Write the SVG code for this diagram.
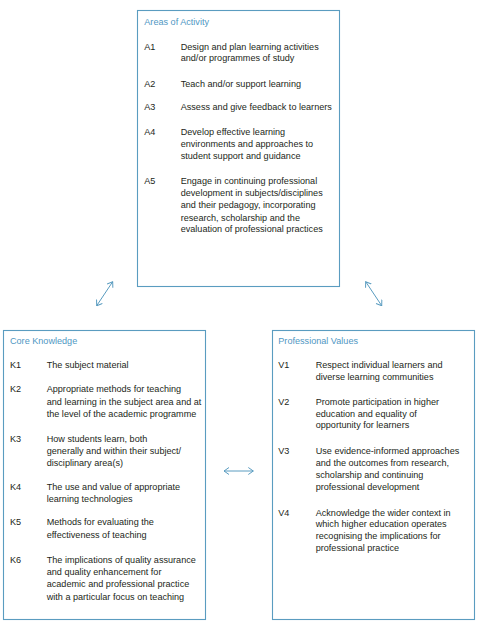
<svg xmlns="http://www.w3.org/2000/svg" width="479" height="629" viewBox="0 0 479 629">
<defs>
<style>
.box{fill:#fff;stroke:#5a9cc0;stroke-width:1.1}
text{font-family:"Liberation Sans",Arial,sans-serif;font-size:9.1px;fill:#231f20}
.title{fill:#4f97c3}
.conn{stroke:#5a9cc0;stroke-width:1;fill:none;marker-start:url(#ah);marker-end:url(#ah)}
</style>
<marker id="ah" viewBox="0 0 6 8" refX="5.5" refY="4" markerWidth="6" markerHeight="8" markerUnits="userSpaceOnUse" orient="auto-start-reverse">
<path d="M0.5,0.5 L5.5,4 L0.5,7.5" fill="none" stroke="#5a9cc0" stroke-width="1"/>
</marker>
</defs>
<rect width="479" height="629" fill="#fff"/>
<g id="areas">
<rect class="box" x="137.5" y="10.5" width="202" height="276"/>
<text class="title" x="144.3" y="25">Areas of Activity</text>
<text x="144.3" y="50">A1</text>
<text x="180.7" y="50">Design and plan learning activities</text>
<text x="180.7" y="61.3">and/or programmes of study</text>
<text x="144.3" y="86.6">A2</text>
<text x="180.7" y="86.6">Teach and/or support learning</text>
<text x="144.3" y="110">A3</text>
<text x="180.7" y="110">Assess and give feedback to learners</text>
<text x="144.3" y="134.5">A4</text>
<text x="180.7" y="134.5">Develop effective learning</text>
<text x="180.7" y="147.3">environments and approaches to</text>
<text x="180.7" y="159">student support and guidance</text>
<text x="144.3" y="183.5">A5</text>
<text x="180.7" y="183.5">Engage in continuing professional</text>
<text x="180.7" y="196">development in subjects/disciplines</text>
<text x="180.7" y="208.4">and their pedagogy, incorporating</text>
<text x="180.7" y="220.7">research, scholarship and the</text>
<text x="180.7" y="232.4">evaluation of professional practices</text>
</g>
<g id="knowledge">
<rect class="box" x="3.5" y="330.5" width="202" height="289"/>
<text class="title" x="10" y="344">Core Knowledge</text>
<text x="10" y="368.3">K1</text>
<text x="46.7" y="368.3">The subject material</text>
<text x="10" y="391.6">K2</text>
<text x="46.7" y="391.6">Appropriate methods for teaching</text>
<text x="46.7" y="404.6">and learning in the subject area and at</text>
<text x="46.7" y="417.3">the level of the academic programme</text>
<text x="10" y="441.6">K3</text>
<text x="46.7" y="441.6">How students learn, both</text>
<text x="46.7" y="454">generally and within their subject/</text>
<text x="46.7" y="466">disciplinary area(s)</text>
<text x="10" y="490">K4</text>
<text x="46.7" y="490">The use and value of appropriate</text>
<text x="46.7" y="501.6">learning technologies</text>
<text x="10" y="525">K5</text>
<text x="46.7" y="525">Methods for evaluating the</text>
<text x="46.7" y="538.3">effectiveness of teaching</text>
<text x="10" y="562.6">K6</text>
<text x="46.7" y="562.6">The implications of quality assurance</text>
<text x="46.7" y="575">and quality enhancement for</text>
<text x="46.7" y="587.3">academic and professional practice</text>
<text x="46.7" y="600">with a particular focus on teaching</text>
</g>
<g id="values">
<rect class="box" x="272.5" y="330.5" width="202" height="289"/>
<text class="title" x="278.3" y="344">Professional Values</text>
<text x="278.3" y="368.3">V1</text>
<text x="315.7" y="368.3">Respect individual learners and</text>
<text x="315.7" y="380">diverse learning communities</text>
<text x="278.3" y="405">V2</text>
<text x="315.7" y="405">Promote participation in higher</text>
<text x="315.7" y="416.6">education and equality of</text>
<text x="315.7" y="428.3">opportunity for learners</text>
<text x="278.3" y="454.3">V3</text>
<text x="315.7" y="454.3">Use evidence-informed approaches</text>
<text x="315.7" y="466">and the outcomes from research,</text>
<text x="315.7" y="478.3">scholarship and continuing</text>
<text x="315.7" y="490">professional development</text>
<text x="278.3" y="515.6">V4</text>
<text x="315.7" y="515.6">Acknowledge the wider context in</text>
<text x="315.7" y="527.3">which higher education operates</text>
<text x="315.7" y="539">recognising the implications for</text>
<text x="315.7" y="551">professional practice</text>
</g>
<g id="connectors">
<line class="conn" x1="96.7" y1="305.7" x2="112.7" y2="281.7"/>
<line class="conn" x1="365.7" y1="281.7" x2="381.7" y2="305.7"/>
<line class="conn" x1="224" y1="471" x2="253.3" y2="471"/>
</g>
</svg>
